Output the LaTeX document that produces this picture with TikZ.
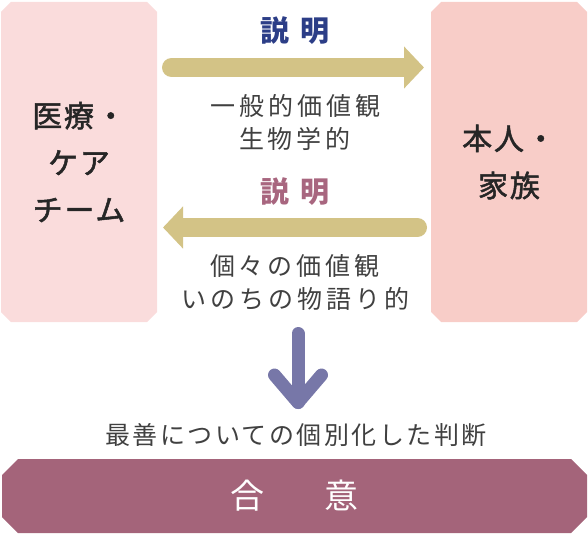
\documentclass[tikz,border=0pt]{standalone}
\usepackage{fontspec}
\newfontfamily\jpfont{Noto Sans CJK JP}
\newfontfamily\jplabel{Noto Sans CJK JP}[LetterSpace=6, FakeBold=1.6]
\newfontfamily\jpvalue{Noto Sans CJK JP}[LetterSpace=16]
\newfontfamily\jpjudge{Noto Sans CJK JP}[LetterSpace=10]
\usetikzlibrary{arrows.meta, positioning, shapes.misc}
\definecolor{teampink}{HTML}{FADCDC}
\definecolor{familypink}{HTML}{F8CDC8}
\definecolor{khaki}{HTML}{D3C386}
\definecolor{mergeblue}{HTML}{7777A8}
\definecolor{consentrose}{HTML}{A4647A}
\definecolor{tellblue}{HTML}{2C3E87}
\definecolor{tellrose}{HTML}{A8667F}
\definecolor{valuegray}{HTML}{404040}

\begin{document}
\begin{tikzpicture}[x=1pt, y=-1pt,
  sidebox/.style={chamfered rectangle, chamfered rectangle xsep=5pt,
    chamfered rectangle ysep=5pt, minimum width=156pt, minimum height=320pt,
    inner sep=0pt, outer sep=0pt, align=center, text=black!85,
    font=\jplabel\fontsize{30}{47}\selectfont},
  telltext/.style={font=\jpfont\bfseries\fontsize{29}{29}\selectfont},
  valuetext/.style={align=center, text=valuegray,
    font=\jpvalue\fontsize{25}{33}\selectfont},
  tellarrow/.style={draw=khaki, line width=19pt, line cap=round,
    -{Triangle[length=20pt, width=41pt]}},
  downarrow/.style={draw=mergeblue, line width=13pt, line cap=round, line join=round}]
  \useasboundingbox (0,0) rectangle (588,535);

  \node[sidebox, fill=teampink] (team) at (79,162) {医療・\\ケア\\チーム};
  \node[sidebox, fill=familypink] (family) at (509,162) {本人・\\家族};

  \coordinate (tellrow) at (0,67.5);
  \coordinate (backrow) at (0,227.5);
  \draw[tellarrow, shorten <=14.5pt, shorten >=7pt] (team.east |- tellrow) -- (family.west |- tellrow);
  \draw[tellarrow, shorten <=13.5pt, shorten >=6pt] (family.west |- backrow) -- (team.east |- backrow);

  \node[telltext, text=tellblue] (tell) at (295,31) {説\hspace{12pt}明};
  \node[valuetext] (general) at (295,122.5) {一般的価値観\\生物学的};
  \node[telltext, text=tellrose] (retell) at (295,192) {説\hspace{12pt}明};
  \node[valuetext] (personal) at (295,282.5) {個々の価値観\\いのちの物語り的};

  \coordinate (merge) at (298,333.5);
  \coordinate (merged) at (298,402.5);
  \draw[downarrow] (merge) -- (merged);
  \draw[downarrow] ([shift={(-23.5,-27.5)}]merged) -- (merged) -- ([shift={(23.5,-27.5)}]merged);

  \node[valuetext, font=\jpjudge\fontsize{25}{25}\selectfont] (judge) at (296,435) {最善についての個別化した判断};
  \node[chamfered rectangle, chamfered rectangle xsep=8pt, chamfered rectangle ysep=8pt,
    minimum width=585pt, minimum height=74pt, inner sep=0pt, fill=consentrose,
    text=white, font=\jpfont\fontsize{34}{34}\selectfont] (consent) at (294.5,496) {合\hspace{60pt}意};
\end{tikzpicture}
\end{document}
